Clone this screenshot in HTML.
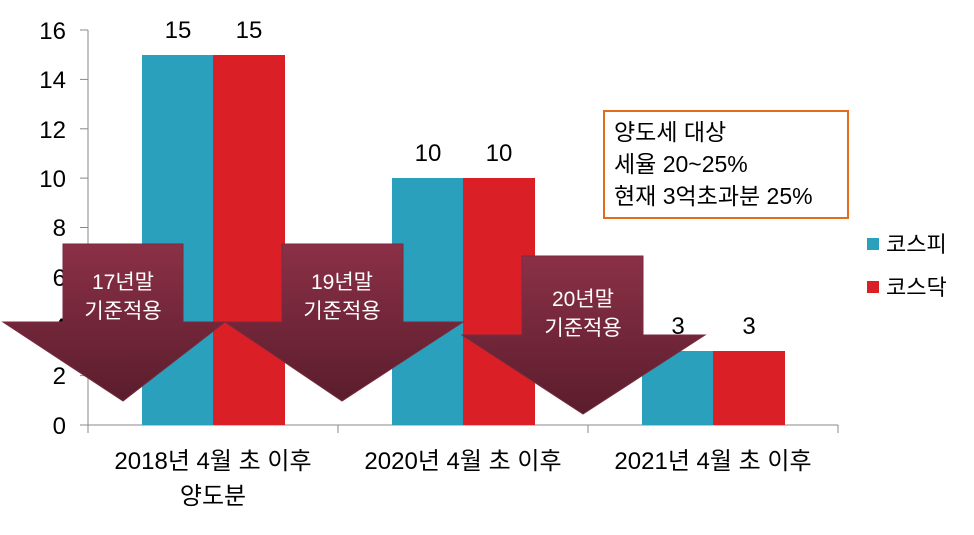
<!DOCTYPE html>
<html><head><meta charset="utf-8"><style>
body{margin:0;background:#fff}
svg text{font-family:"Liberation Sans","Noto Sans CJK KR",sans-serif}
</style></head><body>
<svg width="974" height="530" viewBox="0 0 974 530" xmlns="http://www.w3.org/2000/svg">
<defs><linearGradient id="g" x1="0" y1="0" x2="0" y2="1"><stop offset="0" stop-color="#8b3047"/><stop offset="1" stop-color="#5a1d2c"/></linearGradient></defs>
<line x1="88" y1="30" x2="88" y2="425" stroke="#888" stroke-width="1"/>
<line x1="80" y1="425" x2="838" y2="425" stroke="#888" stroke-width="1"/>
<g stroke="#888"><line x1="80" y1="30" x2="88" y2="30"/><line x1="80" y1="79.4" x2="88" y2="79.4"/><line x1="80" y1="128.8" x2="88" y2="128.8"/><line x1="80" y1="178.1" x2="88" y2="178.1"/><line x1="80" y1="227.5" x2="88" y2="227.5"/><line x1="80" y1="276.9" x2="88" y2="276.9"/><line x1="80" y1="326.3" x2="88" y2="326.3"/><line x1="80" y1="375.6" x2="88" y2="375.6"/>
<line x1="88" y1="425" x2="88" y2="433"/><line x1="338" y1="425" x2="338" y2="433"/><line x1="588" y1="425" x2="588" y2="433"/><line x1="838" y1="425" x2="838" y2="433"/></g>
<g font-size="24" fill="#000" text-anchor="end">
<text x="66" y="39">16</text><text x="66" y="88">14</text><text x="66" y="138">12</text><text x="66" y="187">10</text><text x="66" y="236">8</text><text x="66" y="286">6</text><text x="66" y="335">4</text><text x="66" y="384">2</text><text x="66" y="434">0</text></g>
<rect x="142" y="55" width="71" height="370" fill="#2ba0bd"/><rect x="213" y="55" width="72" height="370" fill="#da1f26"/>
<rect x="392" y="178" width="71" height="247" fill="#2ba0bd"/><rect x="463" y="178" width="72" height="247" fill="#da1f26"/>
<rect x="642" y="351" width="71" height="74" fill="#2ba0bd"/><rect x="713" y="351" width="72" height="74" fill="#da1f26"/>
<g font-size="24" text-anchor="middle"><text x="178" y="38">15</text><text x="249" y="38">15</text><text x="428" y="161">10</text><text x="499" y="161">10</text><text x="678" y="334">3</text><text x="749" y="334">3</text>
<text x="213" y="469">2018년 4월 초 이후</text><text x="213" y="504">양도분</text><text x="463" y="469">2020년 4월 초 이후</text><text x="713" y="469">2021년 4월 초 이후</text></g>
<rect x="604" y="111" width="244" height="107" fill="#fff" stroke="#e46c1f" stroke-width="2"/>
<g font-size="23"><text x="614" y="140">양도세 대상</text><text x="614" y="172">세율 20~25%</text><text x="614" y="204">현재 3억초과분 25%</text></g>
<rect x="867" y="238" width="12" height="12" fill="#2ba0bd"/><text x="886" y="252" font-size="22">코스피</text>
<rect x="867" y="281" width="12" height="12" fill="#da1f26"/><text x="886" y="295" font-size="22">코스닥</text>
<polygon points="63,244 183,244 183,322 225,322 123,401 3,322 63,322" fill="url(#g)" stroke="#7a2a3e" stroke-width="1"/>
<polygon points="282,244 403,244 403,322 463,322 342,401 225,322 282,322" fill="url(#g)" stroke="#7a2a3e" stroke-width="1"/>
<polygon points="522,256 643,256 643,335 705,335 583,414 462,335 522,335" fill="url(#g)" stroke="#7a2a3e" stroke-width="1"/>
<g font-size="21" fill="#fff" text-anchor="middle"><text x="123" y="289">17년말</text><text x="123" y="318">기준적용</text><text x="342" y="289">19년말</text><text x="342" y="318">기준적용</text><text x="583" y="306">20년말</text><text x="583" y="335">기준적용</text></g>
</svg>
</body></html>
